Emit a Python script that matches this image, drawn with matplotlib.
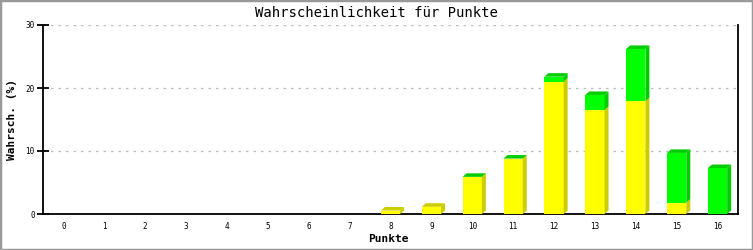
import matplotlib
matplotlib.use("Agg")
import matplotlib.pyplot as plt
from matplotlib.patches import Polygon, Rectangle
import numpy as np

# === Data ===
punkte = list(range(17))
gelb = [0, 0, 0, 0, 0, 0, 0, 0, 0.55, 1.15, 5.9, 8.8, 21.0, 16.5, 17.9, 1.8, 0]
gruen = [np.nan] * 10 + [0, 0, 0.8, 2.4, 8.3, 7.9, 7.3]

YELLOW, YELLOW_DARK = "#ffff00", "#cccc00"
GREEN, GREEN_DARK = "#00ff00", "#00cc00"

fig = plt.figure(figsize=(7.53, 2.5), dpi=100)
fig.patches.append(Rectangle((0, 0), 1, 1, transform=fig.transFigure,
                             fill=False, edgecolor="#999999", linewidth=2.5))
ax = fig.add_axes([43 / 753, 36 / 250, (738 - 43) / 753, (214 - 25) / 250])

xmin, xmax = -0.5, 16.5
ax.set_xlim(xmin, xmax)
ax.set_ylim(0, 30)

# pixel -> data size for the 3D offset
bbox = ax.get_window_extent()
px_x = (xmax - xmin) / bbox.width
px_y = 30 / bbox.height
dx, dy = 4 * px_x, 3.5 * px_y
w = 0.47

for i, x in enumerate(punkte):
    y1 = gelb[i]
    g = gruen[i]
    g = 0 if np.isnan(g) else g
    top = y1 + g
    if top <= 0:
        continue
    l, r = x - w / 2, x + w / 2
    # front and side faces
    if y1 > 0:
        ax.add_patch(Rectangle((l, 0), w, y1, facecolor=YELLOW, edgecolor="none", zorder=3))
        ax.add_patch(Polygon([(r, 0), (r + dx, dy), (r + dx, y1 + dy), (r, y1)],
                             facecolor=YELLOW_DARK, edgecolor="none", zorder=3))
    if g > 0:
        ax.add_patch(Rectangle((l, y1), w, g, facecolor=GREEN, edgecolor="none", zorder=3))
        ax.add_patch(Polygon([(r, y1), (r + dx, y1 + dy), (r + dx, top + dy), (r, top)],
                             facecolor=GREEN_DARK, edgecolor="none", zorder=3))
    # top face
    top_col = YELLOW_DARK if np.isnan(gruen[i]) else GREEN_DARK
    ax.add_patch(Polygon([(l, top), (l + dx, top + dy), (r + dx, top + dy), (r, top)],
                         facecolor=top_col, edgecolor="none", zorder=3))

# grid and spines
ax.set_yticks([0, 10, 20, 30])
ax.set_xticks(punkte)
for v in [10, 20, 30]:
    ax.axhline(v, color="#bbbbbb", linewidth=0.9, linestyle=(0, (2, 4)), zorder=1)
ax.spines["top"].set_visible(False)
for s in ["left", "bottom", "right"]:
    ax.spines[s].set_linewidth(1.3)
    ax.spines[s].set_color("black")

mono = "DejaVu Sans Mono"
ax.tick_params(axis="y", direction="inout", length=8, width=1.3, pad=2,
               labelsize=5.5)
ax.tick_params(axis="x", length=0, pad=6, labelsize=5.5)
for lab in ax.get_xticklabels() + ax.get_yticklabels():
    lab.set_fontfamily(mono)

fig.text(0.5, 0.948, "Wahrscheinlichkeit für Punkte", ha="center", va="center",
         fontsize=10, family=mono)
fig.text(388 / 753, 1 - 239 / 250, "Punkte", ha="center", va="center",
         fontsize=8, fontweight="bold", family=mono)
fig.text(12 / 753, 1 - 120 / 250, "Wahrsch. (%)", ha="center", va="center",
         rotation=90, fontsize=8, fontweight="bold", family=mono)

fig.savefig("out.png", dpi=100)
